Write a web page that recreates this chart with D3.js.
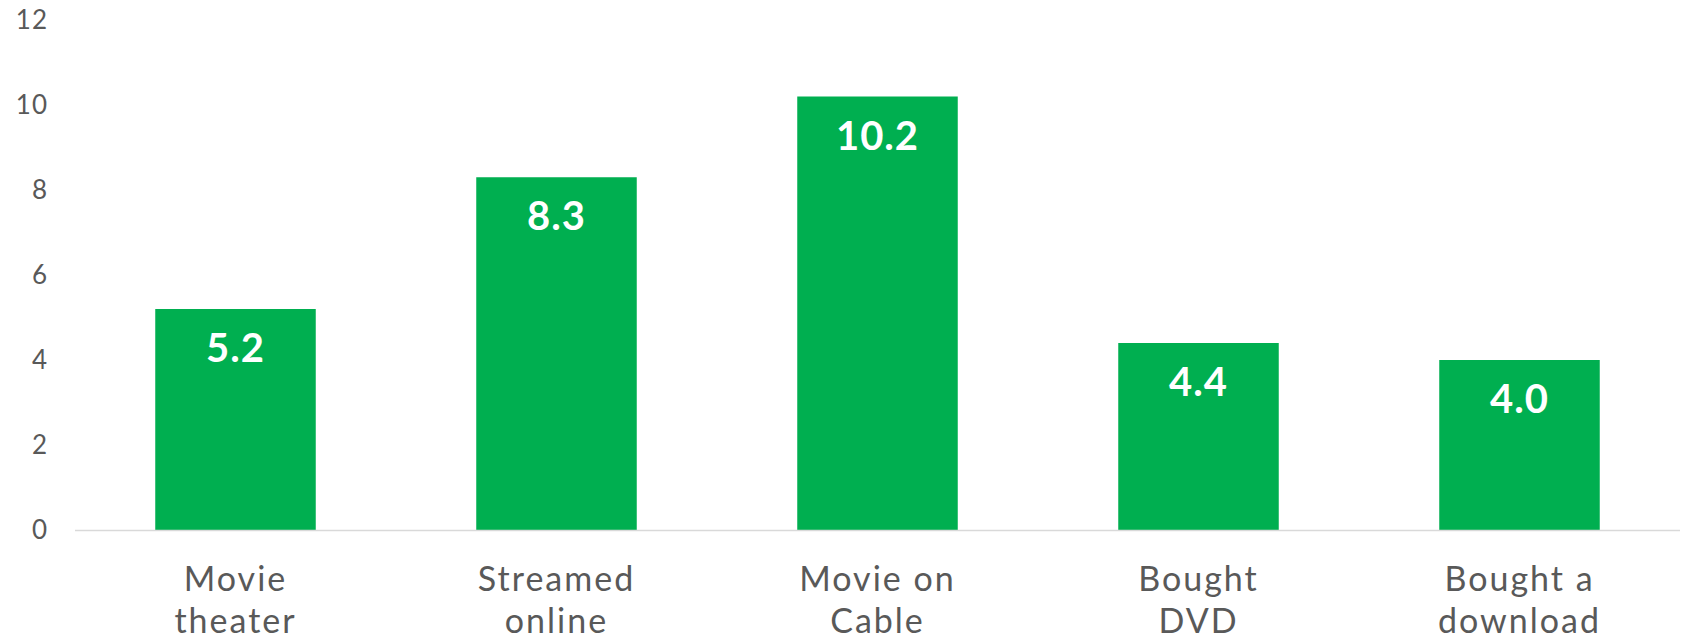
<!DOCTYPE html>
<html>
<head>
<meta charset="utf-8">
<script src="https://cdn.jsdelivr.net/npm/d3@7"></script>
<style>
  html, body { margin: 0; padding: 0; background: #fff; }
  svg { display: block; }
  text { font-family: Lato, "Open Sans", sans-serif; }
</style>
</head>
<body>
<svg id="chart" width="1683" height="640"></svg>
<script>
const categories = [["Movie", "theater"], ["Streamed", "online"], ["Movie on", "Cable"], ["Bought", "DVD"], ["Bought a", "download"]];
const values = [5.2, 8.3, 10.2, 4.4, 4.0];
const yTicks = [0, 2, 4, 6, 8, 10, 12];

const svg = d3.select("#chart");
const margin = { left: 75, right: 3, top: 20, bottom: 110 };
const W = 1683, H = 640;

const x = d3.scaleBand()
  .domain(categories.map((d, i) => i))
  .range([margin.left, W - margin.right])
  .paddingInner(0.5)
  .paddingOuter(0.25);

const y = d3.scaleLinear().domain([0, 12]).range([H - margin.bottom, margin.top]);

// y axis labels (no line)
const yAxis = d3.axisLeft(y).tickValues(yTicks).tickSize(0).tickPadding(0).tickFormat(d3.format("d"));
const ya = svg.append("g").attr("transform", `translate(${margin.left - 27},0)`).call(yAxis);
ya.select(".domain").remove();
ya.selectAll("text").attr("fill", "#595959").style("font-size", "26px").style("font-family", "Lato, sans-serif").style("letter-spacing", "1px");

// bars
svg.append("g").selectAll("rect").data(values).join("rect")
  .attr("x", (d, i) => x(i))
  .attr("width", x.bandwidth())
  .attr("y", d => y(d))
  .attr("height", d => y(0) - y(d))
  .attr("fill", "#00AF50");

// baseline
svg.append("line")
  .attr("x1", margin.left).attr("x2", W - margin.right)
  .attr("y1", y(0) + 0.5).attr("y2", y(0) + 0.5)
  .attr("stroke", "#D9D9D9").attr("stroke-width", 1.5);

// value labels
svg.append("g").selectAll("text").data(values).join("text")
  .attr("x", (d, i) => x(i) + x.bandwidth() / 2)
  .attr("y", d => y(d) + 53)
  .attr("text-anchor", "middle")
  .attr("fill", "#fff")
  .style("font-size", "40px")
  .style("font-weight", "bold")
  .style("letter-spacing", "1px")
  .text(d => d.toFixed(1));

// category labels
const xAxis = d3.axisBottom(x).tickSize(0).tickFormat(() => "");
const xa = svg.append("g").attr("transform", `translate(0,${y(0)})`).call(xAxis);
xa.select(".domain").remove();
xa.selectAll(".tick").each(function(d) {
  const t = d3.select(this).append("text")
    .attr("text-anchor", "middle")
    .attr("fill", "#595959")
    .style("font-size", "34px")
    .style("letter-spacing", "2px");
  categories[d].forEach((line, k) => {
    t.append("tspan").attr("x", 0).attr("y", 61 + k * 42).text(line);
  });
});
</script>
</body>
</html>
